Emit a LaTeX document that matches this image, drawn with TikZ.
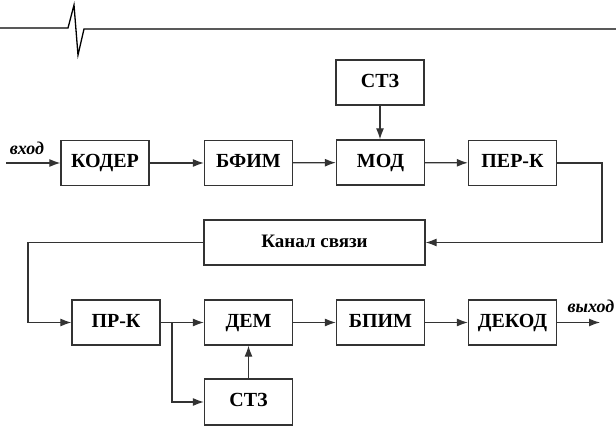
\documentclass[tikz,border=0pt]{standalone}
\usepackage{fontspec}
\setmainfont{Liberation Serif}
\usetikzlibrary{arrows.meta}
\begin{document}
\begin{tikzpicture}[x=1pt,y=-1pt,
  block/.style={draw=black!80, line width=1.3pt, fill=white, minimum width=88pt,
    minimum height=45pt, inner sep=0pt, text height=14pt, text depth=4pt,
    font=\fontsize{20}{24}\selectfont\bfseries},
  link/.style={draw=black!80, line width=1.2pt},
  flow/.style={link, -{Latex[length=11pt,width=8pt]}},
  sig/.style={font=\fontsize{18}{20}\selectfont\bfseries\itshape, inner sep=0pt}]
  \useasboundingbox (0,0) rectangle (616,427);

  % header rule with a spike
  \draw[line width=1.3pt, line join=miter] (0,28) -- (68,28) -- (74,5) -- (78,55) -- (84,29) -- (616,29);

  % transmitter chain
  \node[block] (coder) at (105,163) {КОДЕР};
  \node[block] (bfim)  at (248.5,163) {БФИМ};
  \node[block] (mod)   at (380.5,162.5) {МОД};
  \node[block] (perk)  at (512.5,163) {ПЕР-К};
  \node[block] (stz1)  at (380,82.5) {СТЗ};

  % channel
  \node[block, minimum width=221pt, font=\fontsize{19}{22}\selectfont\bfseries] (chan) at (314.5,242.5) {Канал связи};

  % receiver chain
  \node[block] (prk)   at (116,322.5) {ПР-К};
  \node[block] (dem)   at (248.5,322.5) {ДЕМ};
  \node[block] (bpim)  at (380.5,322.5) {БПИМ};
  \node[block] (decod) at (512.5,322.5) {ДЕКОД};
  \node[block, minimum height=46pt] (stz2) at (248.5,402) {СТЗ};

  % input and output
  \coordinate (in) at (6,163);
  \coordinate (out) at (600,322.5);
  \node[sig] (inlbl) at (27,148) {вход};
  \node[sig] (outlbl) at (591,306) {выход};

  % turning points
  \coordinate (tr1) at (602,163);
  \coordinate (tr2) at (602,242.5);
  \coordinate (rc1) at (28,242.5);
  \coordinate (rc2) at (28,322.5);
  \coordinate (br)  at (172,322.5);
  \coordinate (br2) at (172,402);

  \draw[flow] (in) -- (coder.west);
  \draw[flow] (coder) -- (bfim);
  \draw[flow] (bfim) -- (mod);
  \draw[flow] (mod) -- (perk);
  \draw[flow] (stz1) -- (stz1|-mod.north);
  \draw[flow] (perk.east) -- (tr1) -- (tr2) -- (chan.east);
  \draw[flow] (chan.west) -- (rc1) -- (rc2) -- (prk.west);
  \draw[flow] (prk.east) -- (dem.west);
  \draw[flow] (br) -- (br2) -- (stz2.west);
  \draw[flow] (stz2) -- (dem);
  \draw[flow] (dem) -- (bpim);
  \draw[flow] (bpim) -- (decod);
  \draw[flow] (decod.east) -- (out);
\end{tikzpicture}
\end{document}
